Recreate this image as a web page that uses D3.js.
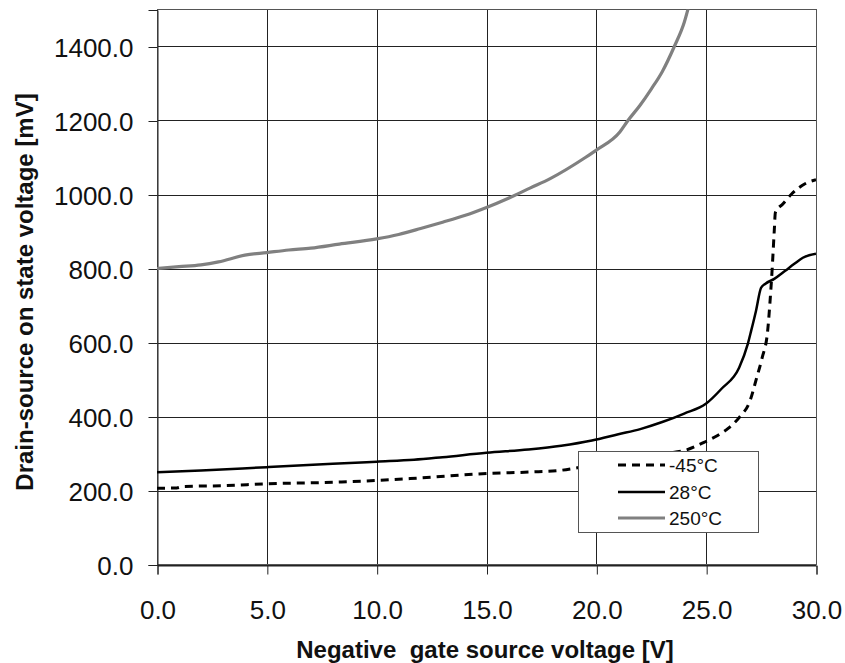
<!DOCTYPE html>
<html><head><meta charset="utf-8">
<script src="https://cdn.jsdelivr.net/npm/d3@7"></script>
<style>body{margin:0;background:#fff;} text{font-family:"Liberation Sans",Arial,sans-serif;}</style>
</head><body><svg id="c" width="845" height="663"></svg>
<script>
const seriesNames = ["-45°C", "28°C", "250°C"];
const xTicks = [0, 5, 10, 15, 20, 25, 30];
const yTicks = [0, 200, 400, 600, 800, 1000, 1200, 1400];
const vgs45 = [0, 0.9, 1.2, 3, 5, 8.4, 10, 12, 15, 17, 18.3, 19.2, 20, 21, 22, 23, 24, 24.9, 25.5, 26, 26.5, 27, 27.3, 27.55, 27.8, 27.9, 28, 28.1, 28.15, 28.5, 28.9, 29.5, 30];
const vds45 = [206, 207, 211, 213, 218, 223, 227, 234, 246, 250, 254, 262, 270, 281, 291, 300, 308, 330, 348, 368, 397, 443, 505, 559, 632, 705, 794, 902, 951, 975, 1002, 1029, 1040];
const vgs28 = [0, 2, 5, 8, 10, 11.7, 13, 15, 16.9, 18.4, 19.8, 21, 22, 23, 24, 25, 25.7, 26.5, 26.9, 27.05, 27.27, 27.5, 27.7, 28.1, 28.6, 29, 29.4, 30];
const vds28 = [249, 254, 263, 272, 278, 283, 290, 302, 311, 321, 335, 352, 366, 385, 408, 435, 475, 532, 597, 632, 686, 748, 759, 772, 794, 812, 829, 840];
const vgs250 = [0, 1, 2, 2.8, 4, 5, 6, 7, 8.3, 10, 11, 12, 13, 14, 15, 16, 17, 17.9, 19.5, 20, 21.07, 21.44, 22, 22.5, 23, 23.55, 24, 24.3];
const vds250 = [800, 805, 810, 818, 836, 843, 850, 855, 866, 880, 892, 908, 925, 943, 965, 990, 1018, 1043, 1100, 1120, 1169, 1200, 1242, 1285, 1332, 1400, 1465, 1530];

const svg = d3.select("#c");
const L = 157, R = 816, T = 9.5, B = 564.5;
const x = d3.scaleLinear().domain([0, 30]).range([L, R]);
const y = d3.scaleLinear().domain([0, 1500]).range([B, T]);
const FONT = '"Liberation Sans",Arial,sans-serif';

// gridlines
const g = svg.append("g");
g.selectAll(".vg").data(xTicks).join("line")
  .attr("x1", d => Math.round(x(d)) + 0.5).attr("x2", d => Math.round(x(d)) + 0.5)
  .attr("y1", T).attr("y2", B).attr("stroke", "#222").attr("stroke-width", 1);
g.selectAll(".hg").data(yTicks).join("line")
  .attr("y1", d => Math.round(y(d)) + 0.5).attr("y2", d => Math.round(y(d)) + 0.5)
  .attr("x1", L).attr("x2", R).attr("stroke", "#222").attr("stroke-width", 1);
svg.append("rect").attr("x", L + 0.5).attr("y", T).attr("width", R - L).attr("height", B - T)
  .attr("fill", "none").attr("stroke", "#555").attr("stroke-width", 1);

// axes
const xAxis = svg.append("g").attr("transform", `translate(0.5,${Math.round(B) + 0.5})`)
  .call(d3.axisBottom(x).tickValues(xTicks).tickFormat(d3.format(".1f")).tickSize(9).tickPadding(26));
const yAxis = svg.append("g").attr("transform", `translate(${L + 0.5},0.5)`)
  .call(d3.axisLeft(y).tickValues(yTicks).tickFormat(d3.format(".1f")).tickSize(9).tickPadding(15));
[xAxis, yAxis].forEach(a => {
  a.select(".domain").attr("stroke", "#222");
  a.selectAll(".tick line").attr("stroke", "#222");
  a.selectAll("text").attr("font-size", 26).attr("fill", "#111").attr("font-family", FONT);
});
yAxis.selectAll("text").attr("dy", "0.35em");

// clip
svg.append("clipPath").attr("id", "clip").append("rect").attr("x", L).attr("y", T).attr("width", R - L).attr("height", B - T);

const line = d3.line().x(d => x(d[0])).y(d => y(d[1])).curve(d3.curveMonotoneX);
const data = [
  {pts: d3.zip(vgs45, vds45), color: "#000", w: 3, dash: "8,6"},
  {pts: d3.zip(vgs28, vds28), color: "#000", w: 2.5, dash: null},
  {pts: d3.zip(vgs250, vds250), color: "#808080", w: 3.2, dash: null}
];
const lg = svg.append("g").attr("clip-path", "url(#clip)");
data.forEach(s => {
  lg.append("path").datum(s.pts).attr("d", line).attr("fill", "none")
    .attr("stroke", s.color).attr("stroke-width", s.w).attr("stroke-dasharray", s.dash);
});

// legend
const leg = svg.append("g");
leg.append("rect").attr("x", 578.5).attr("y", 451.5).attr("width", 180).attr("height", 81)
  .attr("fill", "#fff").attr("stroke", "#555").attr("stroke-width", 1);
const ly = [465, 492, 518];
seriesNames.forEach((n, i) => {
  leg.append("line").attr("x1", 618).attr("x2", 665).attr("y1", ly[i]).attr("y2", ly[i])
    .attr("stroke", data[i].color).attr("stroke-width", data[i].w).attr("stroke-dasharray", data[i].dash);
  leg.append("text").attr("x", 669).attr("y", ly[i]).attr("dy", "0.35em").attr("font-size", 19)
    .attr("fill", "#111").attr("font-family", FONT).text(n);
});

// titles
svg.append("text").attr("x", 485).attr("y", 658).attr("text-anchor", "middle")
  .attr("font-size", 24).attr("font-weight", "bold").attr("fill", "#111").attr("font-family", FONT)
  .style("white-space", "pre").text("Negative  gate source voltage [V]");
svg.append("text").attr("transform", `translate(33,292) rotate(-90)`).attr("text-anchor", "middle")
  .attr("font-size", 24).attr("font-weight", "bold").attr("fill", "#111").attr("font-family", FONT)
  .text("Drain-source on state voltage [mV]");
</script></body></html>
